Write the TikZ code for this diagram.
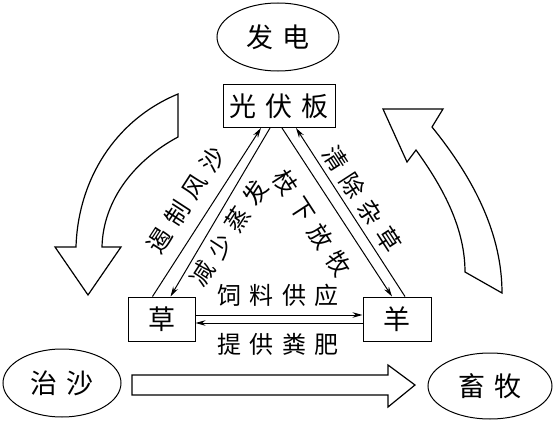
\documentclass[tikz,border=0pt]{standalone}
\usepackage{fontspec}
\setmainfont{Noto Sans CJK SC}[LetterSpace=35]
\usepackage{tikz}
\usetikzlibrary{shapes.geometric, arrows.meta, positioning, calc}
\tikzstyle{arrow} = [line width=1pt, -{Stealth[length=10pt, width=5.5pt]}]

\begin{document}
\begin{tikzpicture}[x=1pt, y=-1pt,
      every node/.style={inner sep=0pt, text centered},
        box/.style={draw, rectangle, line width=1pt, minimum height=44pt, font=\fontsize{27}{27}\selectfont},
        oval/.style={draw, ellipse, line width=1pt, minimum width=122pt, minimum height=68pt, font=\fontsize{27}{27}\selectfont},
        lbl/.style={font=\fontsize{24}{24}\selectfont},
        bigarrow/.style={draw, line width=1.2pt, line join=miter}
          ]
        \useasboundingbox (0,0) rectangle (558,423);

        % Top, left and right ovals
        \node (power) [oval] at (278,37) {发电};
        \node (sand) [oval, minimum width=118pt] at (62,383) {治沙};
        \node (herd) [oval, minimum width=124pt, minimum height=66pt] at (490,386) {畜牧};

        % Boxes of the triangle
        \node (panel) [box, minimum width=112pt, minimum height=43pt] at (279,106) {光伏板};
        \node (grass) [box, minimum width=67pt] at (161.5,319) {草};
        \node (sheep) [box, minimum width=68pt] at (397,319) {羊};

        % Arrows between grass and panel
        \draw [arrow] ([xshift=-9pt]grass.north) -- ([xshift=-18pt]panel.south);
        \draw [arrow] ([xshift=-9pt]panel.south) -- ([xshift=9pt]grass.north);

        % Arrows between panel and sheep
        \draw [arrow] ([xshift=3pt]panel.south) -- ([xshift=-5pt]sheep.north);
        \draw [arrow] ([xshift=8pt]sheep.north) -- ([xshift=17pt]panel.south);

        % Arrows between grass and sheep
        \draw [arrow] ([yshift=4pt]grass.east) -- ([yshift=4pt]sheep.west);
        \draw [arrow] ([yshift=-4pt]sheep.west) -- ([yshift=-4pt]grass.east);

        % Labels
        \node (wind) [lbl, rotate=57] at (186,200) {遏制风沙};
        \node (evap) [lbl, rotate=57] at (229,233) {减少蒸发};
        \node (graze) [lbl, rotate=-57] at (312,223) {枝下放牧};
        \node (weed) [lbl, rotate=-57] at (362,199) {清除杂草};
        \node (feed) [lbl] at (278,295) {饲料供应};
        \node (manure) [lbl] at (278,344) {提供粪肥};

        % Big hollow arrows
        \draw [bigarrow] (178,94) .. controls (115,120) and (78,180) .. (76,247)
          -- (55,247) -- (88,295) -- (121,247) -- (102,247)
          .. controls (103,200) and (135,160) .. (178,137) -- cycle;
        \draw [bigarrow] (383,109) -- (443,109) -- (432,127)
          .. controls (475,180) and (502,235) .. (502,293) -- (465,272)
          .. controls (465,230) and (445,190) .. (416,150) -- (407,162) -- cycle;
        \draw [bigarrow] (132,375) -- (388,375) -- (388,365) -- (415,385)
          -- (388,407) -- (388,395) -- (132,395) -- cycle;

\end{tikzpicture}
\end{document}
